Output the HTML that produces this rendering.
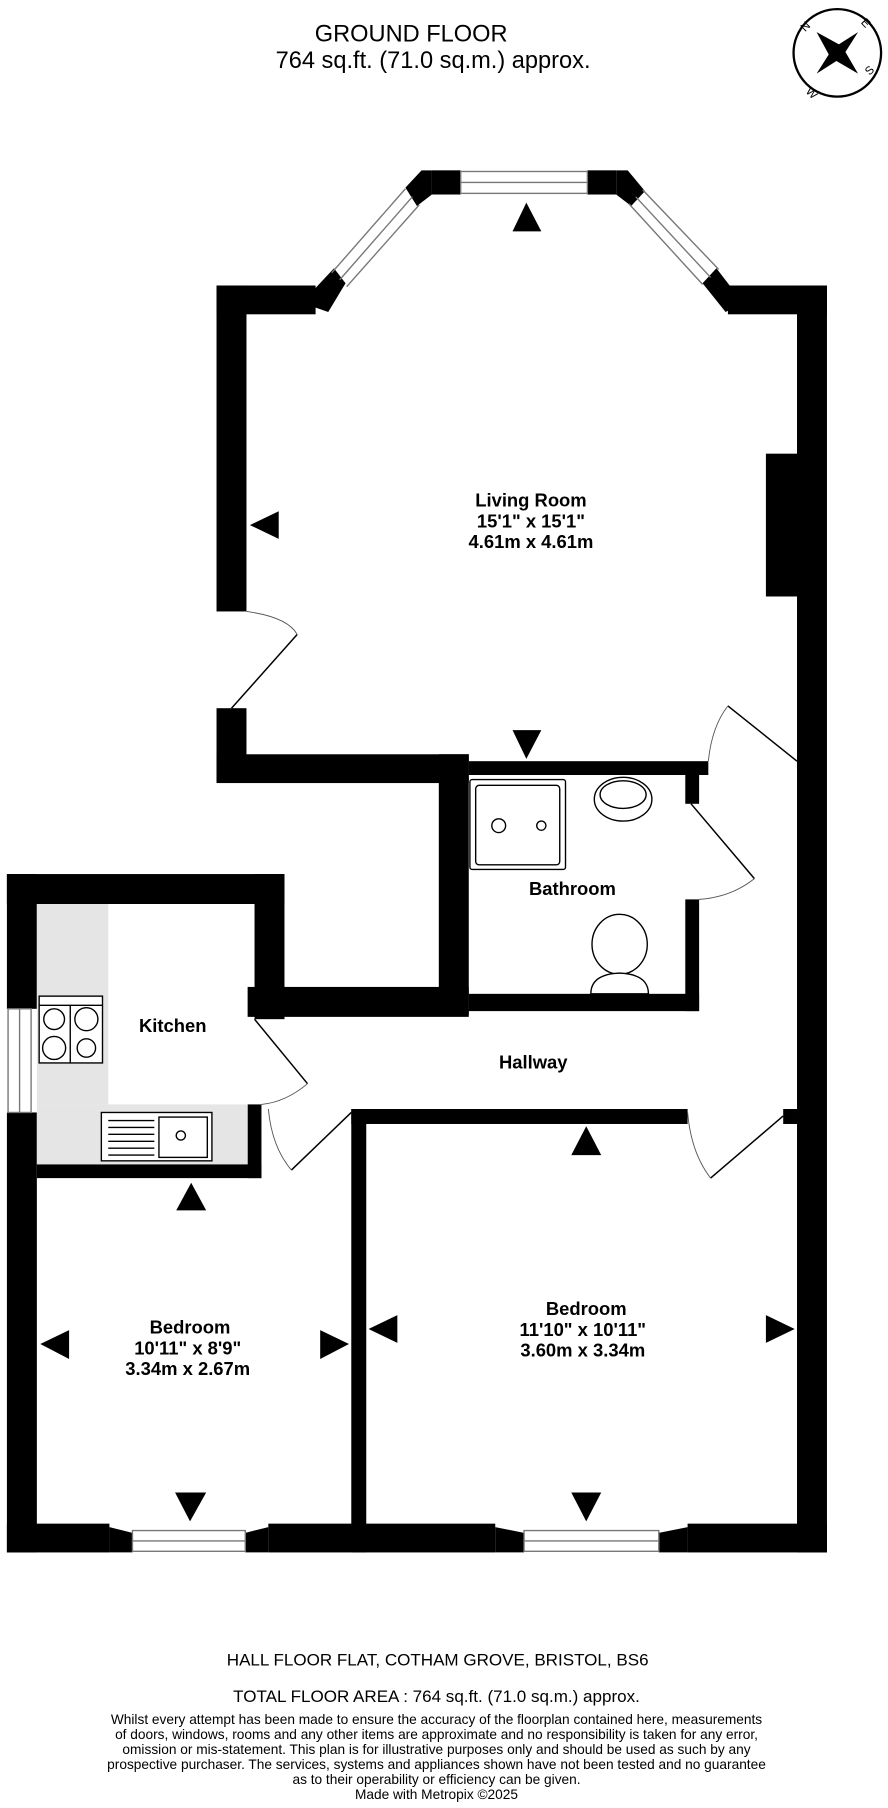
<!DOCTYPE html>
<html><head><meta charset="utf-8"><style>
html,body{margin:0;padding:0;background:#fff}
svg{display:block}
text{font-family:"Liberation Sans",sans-serif;fill:#000}
</style></head><body>
<svg width="888" height="1808" viewBox="0 0 771 1568" xmlns="http://www.w3.org/2000/svg">
<text x="357" y="35" font-size="20.5" text-anchor="middle">GROUND FLOOR</text>
<text x="376" y="58" font-size="20.5" text-anchor="middle">764 sq.ft. (71.0 sq.m.) approx.</text>
<!-- compass -->
<g transform="translate(727,45)">
<circle r="38" fill="none" stroke="#000" stroke-width="2"/>
<polygon points="-18,-18 4,-6 18,18 -6,4" fill="#000"/>
<polygon points="18,-18 4,4 -18,18 -4,-4" fill="#000"/>
<text x="-28" y="-18" font-size="10" transform="rotate(-45 -28 -18)">N</text>
<text x="20" y="-26" font-size="10" transform="rotate(45 20 -26)">E</text>
<text x="28" y="20" font-size="10" transform="rotate(-45 28 20)">S</text>
<text x="-28" y="34" font-size="10" transform="rotate(45 -28 34)">W</text>
</g>
<g fill="#000">
<!-- living room -->
<rect x="188" y="247" width="26" height="283"/>
<rect x="188" y="614" width="26" height="64"/>
<rect x="188" y="247" width="86" height="25"/>
<rect x="632" y="247" width="86" height="25"/>
<rect x="692" y="247" width="26" height="1100"/>
<rect x="665" y="393" width="28" height="124"/>
<rect x="188" y="654" width="219" height="25"/>
<polygon points="262,262 290,232 300,245 285,270"/>
<polygon points="352,162 366,147 375,147 375,168 362,178"/>
<rect x="375" y="147" width="25" height="21"/>
<rect x="510" y="147" width="25" height="21"/>
<polygon points="535,147 545,147 560,165 548,178 535,168"/>
<polygon points="610,245 622,232 645,262 630,270"/>
<!-- bathroom -->
<rect x="381" y="654" width="26" height="226"/>
<rect x="407" y="660" width="208" height="12"/>
<rect x="595" y="672" width="12" height="25"/>
<rect x="595" y="780" width="12" height="97"/>
<rect x="407" y="862" width="200" height="15"/>
<!-- kitchen -->
<rect x="6" y="758" width="241" height="26"/>
<rect x="221" y="758" width="26" height="126"/>
<rect x="215" y="856" width="192" height="26"/>
<rect x="6" y="758" width="26" height="117"/>
<rect x="6" y="965" width="26" height="382"/>
<rect x="32" y="1010" width="195" height="12"/>
<rect x="215" y="958" width="12" height="64"/>
<!-- bedrooms -->
<rect x="305" y="962" width="292" height="13"/>
<rect x="680" y="962" width="12" height="13"/>
<rect x="305" y="962" width="13" height="385"/>
<rect x="6" y="1322" width="89" height="25"/>
<polygon points="95,1325 115,1330 115,1347 95,1347"/>
<polygon points="213,1330 233,1325 233,1347 213,1347"/>
<rect x="233" y="1322" width="197" height="25"/>
<polygon points="430,1325 455,1330 455,1347 430,1347"/>
<polygon points="572,1330 597,1325 597,1347 572,1347"/>
<rect x="597" y="1322" width="121" height="25"/>
</g>
<!-- windows -->
<g fill="#fff" stroke="#777" stroke-width="1.2">
<rect x="400" y="148" width="110" height="19"/>
<line x1="400" y1="157.5" x2="510" y2="157.5"/>
<rect x="115" y="1328" width="98" height="18"/>
<line x1="115" y1="1337" x2="213" y2="1337"/>
<rect x="455" y="1328" width="117" height="18"/>
<line x1="455" y1="1337" x2="572" y2="1337"/>
<rect x="7" y="875" width="20" height="90"/>
<line x1="17" y1="875" x2="17" y2="965"/>
</g>
<g stroke="#777" stroke-width="1.2" fill="none">
<line x1="288" y1="236" x2="352" y2="163"/>
<line x1="295" y1="242" x2="358" y2="170"/>
<line x1="301" y1="248" x2="364" y2="177"/>
<line x1="558" y1="164" x2="624" y2="233"/>
<line x1="552" y1="170" x2="617" y2="240"/>
<line x1="546" y1="176" x2="610" y2="246"/>
</g>
<!-- counters -->
<rect x="32" y="784" width="62" height="174" fill="#e5e5e5"/>
<rect x="32" y="958" width="183" height="52" fill="#e5e5e5"/>
<!-- hob -->
<g stroke="#000" stroke-width="1.2" fill="#fff">
<rect x="34" y="864" width="55" height="58"/>
<line x1="34" y1="872" x2="89" y2="872" fill="none"/>
<line x1="61" y1="872" x2="61" y2="922"/>
<circle cx="47" cy="884" r="9"/><circle cx="75" cy="884" r="10"/>
<circle cx="47" cy="909" r="10"/><circle cx="75" cy="909" r="8"/>
</g>
<!-- sink -->
<g stroke="#000" stroke-width="1.2" fill="#fff">
<rect x="88" y="965" width="96" height="42"/>
<rect x="138" y="969" width="42" height="35"/>
<circle cx="157" cy="985" r="4"/>
</g>
<g stroke="#000" stroke-width="1.2">
<line x1="94" y1="972" x2="134" y2="972"/><line x1="94" y1="978" x2="134" y2="978"/>
<line x1="94" y1="984" x2="134" y2="984"/><line x1="94" y1="990" x2="134" y2="990"/>
<line x1="94" y1="996" x2="134" y2="996"/><line x1="94" y1="1002" x2="134" y2="1002"/>
</g>
<!-- bathroom fixtures -->
<g stroke="#000" stroke-width="1.2" fill="#fff">
<rect x="408" y="676" width="83" height="78" rx="2"/>
<rect x="413" y="681" width="73" height="69" rx="3"/>
<circle cx="433" cy="716" r="6"/>
<circle cx="470" cy="716" r="4"/>
<ellipse cx="541" cy="693" rx="25" ry="19"/>
<ellipse cx="541" cy="689" rx="20" ry="12"/>
<ellipse cx="538" cy="819" rx="24" ry="26"/>
<path d="M513,862 Q513,845 538,844 Q563,845 563,862 Z"/>
</g>
<!-- doors -->
<g stroke="#000" stroke-width="1.3" fill="none">
<line x1="201" y1="614" x2="258" y2="550"/>
<path d="M214,530 Q250,535 258,550" stroke="#555" stroke-width="0.8"/>
<line x1="632" y1="612" x2="692" y2="660"/>
<path d="M615,660 Q618,630 632,612" stroke="#555" stroke-width="0.8"/>
<line x1="600" y1="697" x2="655" y2="762"/>
<path d="M655,762 Q635,778 607,780" stroke="#555" stroke-width="0.8"/>
<line x1="221" y1="884" x2="267" y2="940"/>
<path d="M267,940 Q248,956 227,958" stroke="#555" stroke-width="0.8"/>
<line x1="253" y1="1015" x2="305" y2="965"/>
<path d="M233,962 Q236,995 253,1015" stroke="#555" stroke-width="0.8"/>
<line x1="617" y1="1022" x2="680" y2="968"/>
<path d="M597,965 Q600,1000 617,1022" stroke="#555" stroke-width="0.8"/>
</g>
<!-- arrows -->
<g fill="#000">
<polygon points="457,175 445,200 470,200"/>
<polygon points="217,455 242,443 242,467"/>
<polygon points="445,633 470,633 457,658"/>
<polygon points="166,1026 153,1050 179,1050"/>
<polygon points="509,977 496,1002 522,1002"/>
<polygon points="35,1166 60,1154 60,1179"/>
<polygon points="278,1154 303,1166 278,1179"/>
<polygon points="320,1153 345,1141 345,1165"/>
<polygon points="665,1141 690,1153 665,1165"/>
<polygon points="152,1295 179,1295 165,1320"/>
<polygon points="496,1295 522,1295 509,1320"/>
</g>
<!-- labels -->
<g font-weight="bold" font-size="16" text-anchor="middle">
<text x="461" y="439">Living Room</text>
<text x="461" y="457">15'1"  x 15'1"</text>
<text x="461" y="475">4.61m  x 4.61m</text>
<text x="497" y="776">Bathroom</text>
<text x="150" y="895">Kitchen</text>
<text x="463" y="927">Hallway</text>
<text x="165" y="1157">Bedroom</text>
<text x="163" y="1175">10'11"  x 8'9"</text>
<text x="163" y="1193">3.34m  x 2.67m</text>
<text x="509" y="1141">Bedroom</text>
<text x="506" y="1159">11'10"  x 10'11"</text>
<text x="506" y="1177">3.60m  x 3.34m</text>
</g>
<g text-anchor="middle">
<text x="380" y="1445" font-size="14.8">HALL FLOOR FLAT, COTHAM GROVE, BRISTOL, BS6</text>
<text x="379" y="1477" font-size="14.8">TOTAL FLOOR AREA : 764 sq.ft. (71.0 sq.m.) approx.</text>
<g font-size="11.9">
<text x="379" y="1496">Whilst every attempt has been made to ensure the accuracy of the floorplan contained here, measurements</text>
<text x="379" y="1509">of doors, windows, rooms and any other items are approximate and no responsibility is taken for any error,</text>
<text x="379" y="1522">omission or mis-statement. This plan is for illustrative purposes only and should be used as such by any</text>
<text x="379" y="1535">prospective purchaser. The services, systems and appliances shown have not been tested and no guarantee</text>
<text x="379" y="1548">as to their operability or efficiency can be given.</text>
<text x="379" y="1561">Made with Metropix ©2025</text>
</g>
</g>
</svg>
</body></html>
